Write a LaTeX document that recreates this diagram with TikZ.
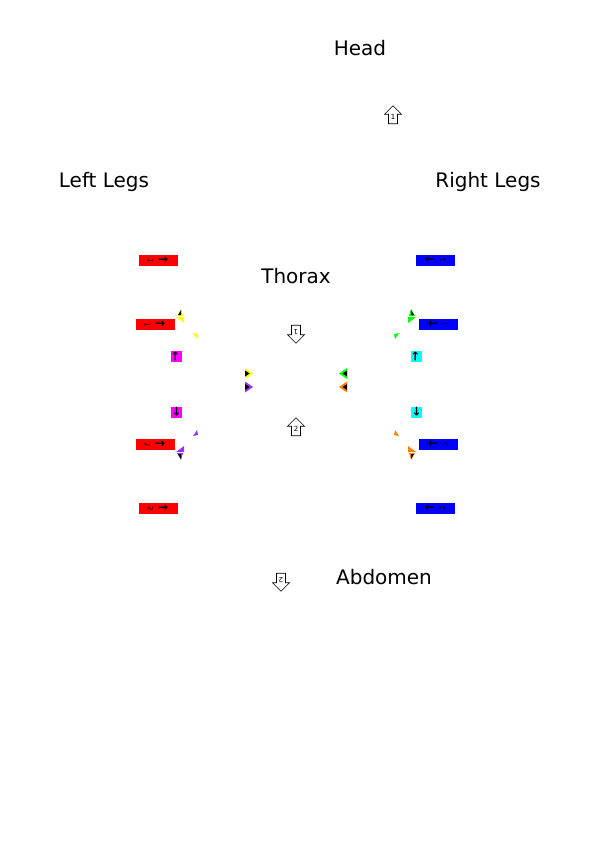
\documentclass[tikz,border=0pt]{standalone}
\usepackage{fontspec}
\setmainfont{DejaVu Sans}
\usetikzlibrary{shapes.arrows}
\definecolor{bugred}{HTML}{FF0000}
\definecolor{bugblue}{HTML}{0000FF}
\definecolor{bugmagenta}{HTML}{FF00FF}
\definecolor{bugcyan}{HTML}{00FFFF}
\definecolor{bugyellow}{HTML}{FFFF00}
\definecolor{buggreen}{HTML}{00FF00}
\definecolor{bugpurple}{HTML}{9933FF}
\definecolor{bugorange}{HTML}{FF8000}
\newcommand\fatright{{\fontsize{12}{12}\selectfont\bfseries →}}
\newcommand\fatleft{{\fontsize{12}{12}\selectfont\bfseries ←}}
% little triangle marks beside the upper left legs
\newcommand\legtips[1]{%
  \fill[#1] (177,316) -- (181,309) -- (183,316) -- cycle;
  \fill[black] (178,315) -- (181,310) -- (181,315) -- cycle;
  \fill[#1] (176,317) -- (184,317) -- (184,323) -- cycle;
  \fill[#1] (193,333) -- (198,334) -- (197,339) -- cycle;}

\begin{document}
\begin{tikzpicture}[x=1pt, y=-1pt,
  partlabel/.style={font=\fontsize{20}{22}\selectfont},
  legbox/.style={minimum width=39pt, minimum height=11pt, inner sep=0pt,
    font=\fontsize{7}{8}\selectfont},
  jointbox/.style={minimum size=11pt, inner sep=0pt,
    font=\fontsize{6}{7}\selectfont},
  hollowarrow/.style={single arrow, draw, line width=0.6pt,
    single arrow head extend=4pt, minimum height=18pt, inner sep=2pt,
    shape border rotate=90, font=\fontsize{7}{8}\selectfont}]
  \useasboundingbox (0,0) rectangle (595,842);

  % body parts
  \node[partlabel] (head) at (360,48) {Head};
  \node[partlabel] (leftlegs) at (104,182) {Left Legs};
  \node[partlabel] (rightlegs) at (488,182) {Right Legs};
  \node[partlabel] (thorax) at (296,276) {Thorax};
  \node[partlabel] (abdomen) at (384,577) {Abdomen};

  % hollow arrows between the parts
  \node[hollowarrow] (neck) at (393,117) {1};
  \node[hollowarrow, rotate=180] (thoraxin) at (296,332) {1};
  \node[hollowarrow] (thoraxout) at (296,429) {2};
  \node[hollowarrow, rotate=180] (waist) at (281,580) {2};

  % legs
  \foreach \i/\y/\d/\dx in {1/260/1/3, 2/324/1/0, 3/444/2/0, 4/508/2/3} {
    \node[legbox, fill=bugred] (lleg\i) at (155+\dx, \y)
      {\rotatebox[origin=c]{-90}{\d}\hspace{5pt}\fatright};
    \node[legbox, fill=bugblue] (rleg\i) at (438-\dx, \y)
      {\fatleft\hspace{5pt}\rotatebox[origin=c]{90}{\d}};
  }

  % joints
  \node[jointbox, fill=bugmagenta] (ljoint1) at (176,356) {\rotatebox[origin=c]{90}{\fatright}};
  \node[jointbox, fill=bugmagenta] (ljoint2) at (176,412) {\rotatebox[origin=c]{-90}{\fatright}};
  \node[jointbox, fill=bugcyan] (rjoint1) at (416,356) {\rotatebox[origin=c]{90}{\fatright}};
  \node[jointbox, fill=bugcyan] (rjoint2) at (416,412) {\rotatebox[origin=c]{-90}{\fatright}};

  % triangle marks, mirrored to the four corners
  \foreach \sx/\sy/\col in {1/1/bugyellow, -1/1/buggreen, 1/-1/bugpurple, -1/-1/bugorange} {
    \begin{scope}[shift={({(1-\sx)*296},{(1-\sy)*384.5})}, xscale=\sx, yscale=\sy]
      \legtips{\col}
    \end{scope}
  }
  \foreach \sx/\cola/\colb in {1/bugyellow/bugpurple, -1/buggreen/bugorange} {
    \begin{scope}[shift={({(1-\sx)*296},0)}, xscale=\sx]
      \fill[\cola] (245,368) -- (253,373.5) -- (245,379) -- cycle;
      \fill[black] (245,370.5) -- (249.5,373.5) -- (245,376.5) -- cycle;
      \fill[\colb] (245,381.5) -- (253,387) -- (245,392.5) -- cycle;
      \fill[black] (245,384) -- (249.5,387) -- (245,390) -- cycle;
    \end{scope}
  }
\end{tikzpicture}
\end{document}
